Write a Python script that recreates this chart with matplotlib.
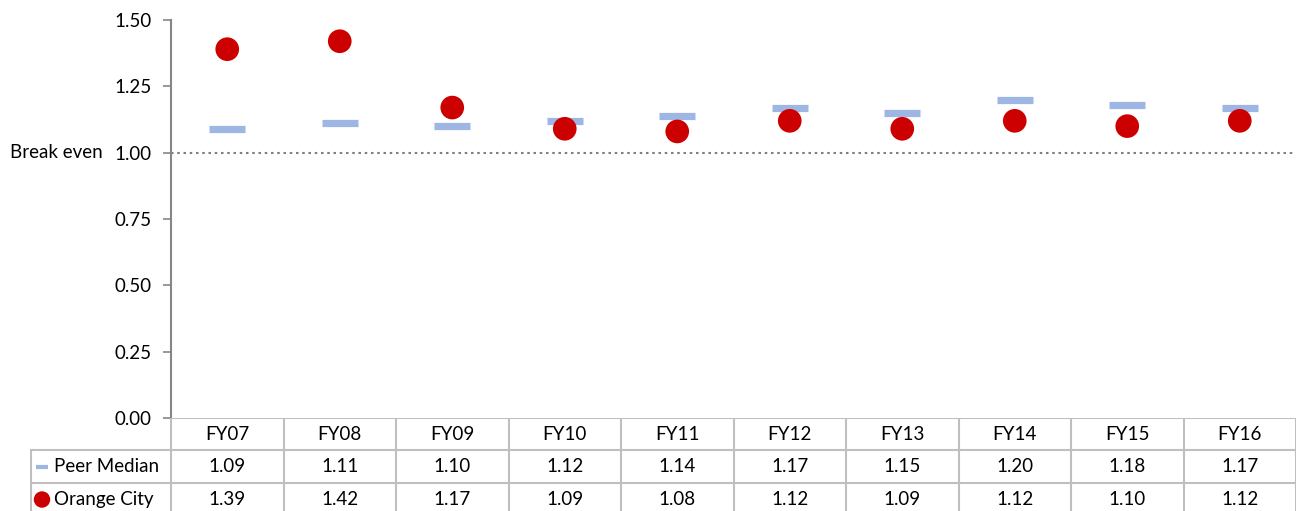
import matplotlib
matplotlib.use("Agg")
import matplotlib.pyplot as plt
import matplotlib.transforms as mtransforms

years = ["FY07", "FY08", "FY09", "FY10", "FY11", "FY12", "FY13", "FY14", "FY15", "FY16"]
peer_median = [1.09, 1.11, 1.10, 1.12, 1.14, 1.17, 1.15, 1.20, 1.18, 1.17]
orange_city = [1.39, 1.42, 1.17, 1.09, 1.08, 1.12, 1.09, 1.12, 1.10, 1.12]
y_ticks = [0.00, 0.25, 0.50, 0.75, 1.00, 1.25, 1.50]
break_even = 1.00

plt.rcParams['font.family'] = ['Lato', 'DejaVu Sans']

W, H = 1296, 511
fig = plt.figure(figsize=(W / 100, H / 100), dpi=100)

# main plot area (pixel layout of the original)
left, right, top, bottom = 171, 1296, 20, 418
ax = fig.add_axes([left / W, (H - bottom) / H, (right - left) / W, (bottom - top) / H])
x = list(range(len(years)))

ax.scatter(x, peer_median, marker='_', s=680, linewidths=5.2, color='#9DB6E3', zorder=3)
ax.scatter(x, orange_city, marker='o', s=290, color='#CC0000', edgecolors='none', zorder=4)
ax.axhline(break_even, color='#7F7F7F', linestyle=(0, (1.2, 1.8)), linewidth=1.5, zorder=2)

ax.set_xlim(-0.5, len(years) - 0.5)
ax.set_ylim(0, 1.5)
ax.set_yticks(y_ticks)
ax.set_yticklabels([f"{v:.2f}" for v in y_ticks], fontsize=13.5, color='#000000')
ax.tick_params(axis='y', direction='out', length=6, color='#868686', width=1.2, pad=8)
ax.set_xticks([])
for s in ['top', 'right', 'bottom']:
    ax.spines[s].set_visible(False)
ax.spines['left'].set_color('#868686')
ax.spines['left'].set_linewidth(1.5)

trans = mtransforms.blended_transform_factory(fig.transFigure, ax.transData)
ax.text(10 / W, break_even, "Break even", transform=trans, ha='left', va='center',
        fontsize=13.5)

# data table below the plot
tleft = 30
unit = (right - left) / len(years)
tax = fig.add_axes([tleft / W, 0, (right - tleft) / W, (H - bottom) / H])
tax.set_xlim(-0.5 - (left - tleft) / unit, len(years) - 0.5)
tax.set_ylim(H - bottom, 0)
tax.axis('off')

grid_c = '#BFBFBF'
row_h = [32, 33, 33]
ys = [0]
for h in row_h:
    ys.append(ys[-1] + h)

# horizontal lines
xl = tax.get_xlim()[0]
tax.plot([-0.5, len(years) - 0.5], [ys[0], ys[0]], color=grid_c, lw=1.5)
tax.plot([xl, len(years) - 0.5], [ys[1], ys[1]], color=grid_c, lw=1.5)
tax.plot([xl, len(years) - 0.5], [ys[2], ys[2]], color=grid_c, lw=1.5)
# vertical lines
for i in range(len(years) + 1):
    tax.plot([i - 0.5, i - 0.5], [ys[0], H], color=grid_c, lw=1.5)
tax.plot([xl + 0.01, xl + 0.01], [ys[1], H], color=grid_c, lw=1.5)

for i, yr in enumerate(years):
    tax.text(i, (ys[0] + ys[1]) / 2, yr, ha='center', va='center', fontsize=13.5)
    tax.text(i, (ys[1] + ys[2]) / 2, f"{peer_median[i]:.2f}", ha='center', va='center', fontsize=13.5)
    tax.text(i, (ys[2] + ys[3]) / 2, f"{orange_city[i]:.2f}", ha='center', va='center', fontsize=13.5)

# legend keys inside the table
kx = xl + 12 / unit
tax.plot([kx - 6 / unit, kx + 6 / unit], [(ys[1] + ys[2]) / 2] * 2, color='#9DB6E3', lw=3,
         solid_capstyle='butt')
tax.scatter([kx], [(ys[2] + ys[3]) / 2], s=140, color='#CC0000', edgecolors='none')
tax.text(xl + 24 / unit, (ys[1] + ys[2]) / 2, "Peer Median", ha='left', va='center', fontsize=13.5)
tax.text(xl + 24 / unit, (ys[2] + ys[3]) / 2, "Orange City", ha='left', va='center', fontsize=13.5)

fig.savefig("out.png", dpi=100)
